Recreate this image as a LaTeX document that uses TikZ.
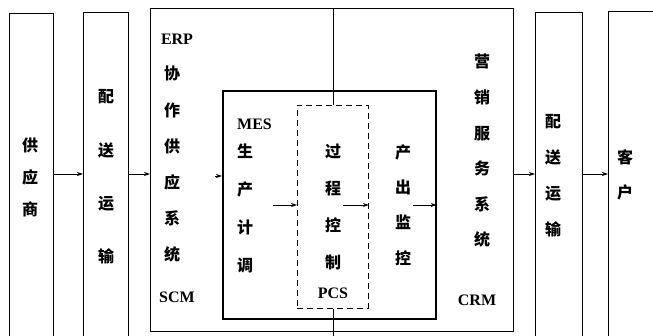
\documentclass[tikz,border=0pt]{standalone}
\usepackage{fontspec}
\setmainfont{Liberation Serif}
\newfontfamily\cjk{Noto Sans CJK SC}
\usetikzlibrary{arrows.meta,calc}
\begin{document}
\begin{tikzpicture}[x=1pt,y=-1pt,
 box/.style={draw, line width=1.2pt, anchor=north west, inner sep=0pt},
 inbox/.style={draw, line width=1.7pt, anchor=north west, inner sep=0pt},
 dbox/.style={draw, line width=0.9pt, dash pattern=on 6pt off 4pt, anchor=north west, inner sep=0pt},
 col/.style={align=center, inner sep=0pt, font=\cjk\bfseries\fontsize{16}{#1}\selectfont},
 lat/.style={inner sep=0pt, font=\bfseries\fontsize{16}{18}\selectfont},
 arr/.style={line width=0.9pt, -{Stealth[length=6pt,width=4pt]}},
 ln/.style={line width=0.9pt},
]
\clip (0,0) rectangle (653,336);
% boxes
\node[box, minimum width=44pt, minimum height=332pt] (sup) at (9,13) {};
\node[box, minimum width=45pt, minimum height=333pt] (dl) at (83,12) {};
\node[box, minimum width=363pt, minimum height=323pt] (erp) at (150,8) {};
\node[inbox, minimum width=213pt, minimum height=228pt] (mes) at (222,90) {};
\node[dbox, minimum width=71pt, minimum height=203pt] (pcs) at (297,105) {};
\node[box, minimum width=47pt, minimum height=333pt] (dr) at (535,12) {};
\node[box, minimum width=60pt, minimum height=334pt] (cus) at (608,11) {};
% texts
\node[col=32] (t1) at (30,177) {供\\应\\商};
\node[col=53.3] (t2) at (106,177) {配\\送\\运\\输};
\node[lat] (erpl) at (177,39) {ERP};
\node[col=36.2] (t3) at (172,164.5) {协\\作\\供\\应\\系\\统};
\node[lat] (scml) at (177,297) {SCM};
\node[lat, anchor=west] (mesl) at (237,124) {MES};
\node[col=38] (t4) at (245,208) {生\\产\\计\\调};
\node[col=37.3] (t5) at (333,207) {过\\程\\控\\制};
\node[lat] (pcsl) at (333,293) {PCS};
\node[col=35.3] (t6) at (403,205) {产\\出\\监\\控};
\node[col=35.6] (t7) at (482,151) {营\\销\\服\\务\\系\\统};
\node[lat] (crml) at (477,300) {CRM};
\node[col=36] (t8) at (553,176) {配\\送\\运\\输};
\node[col=35] (t9) at (625,175) {客\\户};
% helper coordinates
\coordinate (row) at (0,174);
\coordinate (row2) at (0,176);
\coordinate (row3) at (0,205);
\coordinate (bot) at (0,345);
\coordinate (e1) at (215,176);
\coordinate (e2) at (273,205);
\coordinate (e3) at (343,205);
\coordinate (e4) at (413,205);
% connectors
\draw[arr] (sup.east |- row) -- (dl.west |- row);
\draw[arr] (dl.east |- row) -- (erp.west |- row);
\draw[arr] (e1) -- (mes.west |- row2);
\draw[arr] (e2) -- (pcs.west |- row3);
\draw[arr] (e3) -- (pcs.east |- row3);
\draw[arr] (e4) -- (mes.east |- row3);
\draw[arr] (erp.east |- row) -- (dr.west |- row);
\draw[arr] (dr.east |- row) -- (cus.west |- row);
\draw[ln] (pcs.north |- erp.north) -- (pcs.north);
\draw[ln] (pcs.south) -- (pcs.south |- bot);
\end{tikzpicture}
\end{document}
